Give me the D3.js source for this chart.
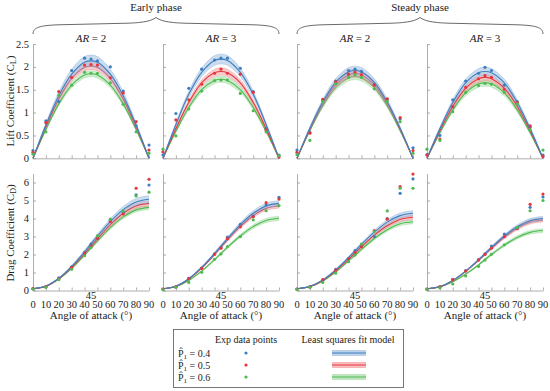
<!DOCTYPE html>
<html><head><meta charset="utf-8">
<script src="https://cdn.jsdelivr.net/npm/d3@7"></script>
<style>body{margin:0;background:#fff}svg{display:block}text{font-family:"Liberation Serif","DejaVu Serif",serif;fill:#222}</style>
</head><body><svg id="c" width="550" height="391"></svg>
<script>
// ---------- data ----------
const angles = [0,10,20,30,40,45,50,60,70,80,90];
const seriesNames = ["0.4","0.5","0.6"];
const phases = ["Early phase","Steady phase"];
const arLabels = ["2","3","2","3"];
const liftTicks = [0,0.5,1,1.5,2,2.5];
const dragTicks = [0,1,2,3,4,5,6];
const xTicks = [0,10,20,30,40,50,60,70,80,90];

// Lift coefficient, experimental points [P=0.4, P=0.5, P=0.6]
const clExpEarly2 = [
  [0.17,0.82,1.24,1.92,2.19,2.17,2.13,2.00,1.47,0.71,0.29],
  [0.13,0.78,1.46,1.77,2.04,2.05,2.04,1.76,1.43,0.80,0.18],
  [0.09,0.58,1.38,1.60,1.88,1.86,1.86,1.65,1.18,0.58,0.11]];
const clExpEarly3 = [
  [0.07,0.98,1.53,1.95,2.15,2.19,2.19,1.97,1.46,0.65,0.07],
  [0.14,0.84,1.28,1.62,1.86,1.95,1.86,1.84,1.44,0.62,0.03],
  [0.20,0.49,1.08,1.47,1.70,1.71,1.71,1.42,1.04,0.58,0.06]];
const clExpSteady2 = [
  [0.18,0.57,1.28,1.69,1.92,1.95,1.90,1.62,1.29,0.86,0.23],
  [0.13,0.55,1.29,1.67,1.84,1.88,1.83,1.60,1.30,0.89,0.17],
  [0.08,0.39,1.24,1.63,1.77,1.83,1.77,1.52,1.24,0.80,0.11]];
const clExpSteady3 = [
  [0.08,0.50,1.28,1.69,1.86,1.99,1.92,1.60,1.24,0.68,0.07],
  [0.07,0.42,1.13,1.55,1.74,1.81,1.77,1.51,1.22,0.71,0.04],
  [0.20,0.39,1.02,1.44,1.59,1.64,1.62,1.44,1.19,0.62,0.18]];
// Lift coefficient, least squares fit
const clFitEarly2 = [
  [0,0.73,1.37,1.84,2.10,2.13,2.10,1.84,1.37,0.73,0],
  [0,0.69,1.30,1.75,1.99,2.02,1.99,1.75,1.30,0.69,0],
  [0,0.63,1.19,1.60,1.82,1.85,1.82,1.60,1.19,0.63,0]];
const clFitEarly3 = [
  [0,0.74,1.40,1.88,2.14,2.17,2.14,1.88,1.40,0.74,0],
  [0,0.65,1.22,1.65,1.87,1.90,1.87,1.65,1.22,0.65,0],
  [0,0.59,1.11,1.50,1.70,1.73,1.70,1.50,1.11,0.59,0]];
const clFitSteady2 = [
  [0,0.66,1.23,1.66,1.89,1.92,1.89,1.66,1.23,0.66,0],
  [0,0.64,1.20,1.61,1.83,1.86,1.83,1.61,1.20,0.64,0],
  [0,0.61,1.15,1.55,1.76,1.79,1.76,1.55,1.15,0.61,0]];
const clFitSteady3 = [
  [0,0.65,1.22,1.65,1.87,1.90,1.87,1.65,1.22,0.65,0],
  [0,0.61,1.14,1.53,1.74,1.77,1.74,1.53,1.14,0.61,0],
  [0,0.56,1.06,1.43,1.63,1.65,1.63,1.43,1.06,0.56,0]];
// relative half-width of the fit confidence band
const clBand = [[0.06,0.04,0.035],[0.05,0.042,0.04],[0.05,0.045,0.04],[0.05,0.045,0.045]];

// Drag coefficient, experimental points
const cdExpEarly2 = [
  [0.10,0.22,0.70,1.32,2.12,2.58,2.90,3.88,4.34,5.31,5.86],
  [0.10,0.20,0.65,1.28,2.06,2.47,2.90,3.82,4.25,5.68,6.18],
  [0.08,0.18,0.60,1.18,1.93,2.39,3.03,3.96,4.42,5.25,5.46]];
const cdExpEarly3 = [
  [0.08,0.20,0.68,1.25,2.03,2.40,2.96,3.68,4.14,4.75,5.18],
  [0.08,0.20,0.66,1.23,2.01,2.35,2.88,3.54,4.10,4.88,5.08],
  [0.04,0.18,0.45,1.01,1.73,2.03,2.44,2.99,3.92,4.43,4.71]];
const cdExpSteady2 = [
  [0.08,0.20,0.58,1.18,1.79,2.21,2.46,3.00,4.00,5.40,6.20],
  [0.08,0.20,0.60,1.12,1.76,2.10,2.44,3.33,3.96,5.77,6.47],
  [0.05,0.18,0.45,0.96,1.60,1.97,2.58,3.28,4.42,5.68,5.68]];
const cdExpSteady3 = [
  [0.08,0.20,0.62,1.10,1.71,2.03,2.47,3.14,3.45,4.62,5.20],
  [0.08,0.20,0.60,1.08,1.69,2.01,2.35,2.99,3.43,4.79,5.36],
  [0.05,0.15,0.36,0.81,1.34,1.69,2.01,2.54,3.49,4.43,5.00]];
// Drag coefficient, least squares fit
const cdFitEarly2 = [
  [0.10,0.25,0.68,1.34,2.15,2.59,3.02,3.83,4.49,4.92,5.07],
  [0.10,0.24,0.65,1.29,2.06,2.47,2.88,3.66,4.29,4.70,4.84],
  [0.10,0.23,0.63,1.23,1.97,2.36,2.75,3.49,4.09,4.48,4.62]];
const cdFitEarly3 = [
  [0.10,0.24,0.65,1.29,2.06,2.47,2.88,3.66,4.29,4.70,4.84],
  [0.10,0.24,0.64,1.25,2.00,2.41,2.81,3.56,4.17,4.57,4.71],
  [0.10,0.22,0.56,1.08,1.71,2.06,2.40,3.03,3.55,3.89,4.01]];
const cdFitSteady2 = [
  [0.10,0.23,0.59,1.15,1.83,2.20,2.56,3.24,3.80,4.16,4.29],
  [0.10,0.22,0.56,1.09,1.74,2.09,2.43,3.08,3.60,3.95,4.07],
  [0.10,0.21,0.53,1.03,1.65,1.96,2.28,2.89,3.38,3.71,3.82]];
const cdFitSteady3 = [
  [0.10,0.22,0.56,1.08,1.71,2.05,2.39,3.03,3.54,3.88,4.00],
  [0.10,0.21,0.55,1.06,1.68,2.01,2.34,2.97,3.47,3.81,3.92],
  [0.10,0.20,0.48,0.91,1.42,1.72,2.00,2.52,2.95,3.23,3.33]];
const cdBand = [[0.04,0.03,0.026],[0.032,0.028,0.03],[0.035,0.03,0.03],[0.03,0.03,0.032]];

// ---------- layout / style ----------
const colors = ["#3f7fc1","#e8353b","#4fba50"];
const bandColors = ["#9fbfe0","#f2a3a6","#a6dca6"];
const colX = [33,163,297,427], colW = 116;
const liftY = [158.3,44], dragY = [290.5,173.5];
const svg = d3.select("#c");

const clExp = [clExpEarly2,clExpEarly3,clExpSteady2,clExpSteady3];
const clFit = [clFitEarly2,clFitEarly3,clFitSteady2,clFitSteady3];
const cdExp = [cdExpEarly2,cdExpEarly3,cdExpSteady2,cdExpSteady3];
const cdFit = [cdFitEarly2,cdFitEarly3,cdFitSteady2,cdFitSteady3];

const yLiftScale = d3.scaleLinear([0,2.5], liftY);
const yDragScale = d3.scaleLinear([0,6.5], dragY);

function panel(ci, y, ticks, exp, fit, band, showX) {
  const x = d3.scaleLinear([0,90],[colX[ci], colX[ci]+colW]);
  const y0 = y(0);
  const g = svg.append("g");
  const ya = d3.axisLeft(y).tickValues(ticks).tickSizeInner(-3).tickSizeOuter(0).tickFormat(() => "");
  const yg = g.append("g").attr("transform",`translate(${colX[ci]},0)`).call(ya);
  const xa = d3.axisBottom(x).tickValues(xTicks).tickSizeInner(-3).tickSizeOuter(0).tickFormat(() => "");
  const xg = g.append("g").attr("transform",`translate(0,${y0})`).call(xa);
  [yg,xg].forEach(a => {
    a.select(".domain").attr("stroke","#9a9a9a").attr("stroke-width",0.8);
    a.selectAll(".tick line").attr("stroke","#9a9a9a").attr("stroke-width",0.8);
  });
  if (showX) {
    g.append("g").selectAll("text").data(xTicks).join("text")
      .attr("x", d => x(d)).attr("y", y0+17).attr("text-anchor","middle")
      .style("font-size","10.5px").text(d => String(d));
    g.append("text").attr("x",x(45)).attr("y",y0+8.5).attr("text-anchor","middle")
      .style("font-size","10.5px").text("45");
    g.append("text").attr("x",x(45)).attr("y",y0+28).attr("text-anchor","middle")
      .style("font-size","11px").text("Angle of attack (°)");
  }
  const line = d3.line().x((d,i)=>x(angles[i])).y(d=>y(d)).curve(d3.curveCatmullRom);
  const area = d3.area().x(d=>x(d.a)).y0(d=>y(d.lo)).y1(d=>y(d.hi)).curve(d3.curveCatmullRom);
  for (let s=2; s>=0; s--) {
    const f = band[ci][s];
    const bd = fit[s].map((v,i)=>({a:angles[i], lo:v*(1-f), hi:v*(1+f)}));
    g.append("path").datum(bd).attr("d",area).attr("fill",bandColors[s]).attr("fill-opacity",0.55);
    g.append("path").datum(bd.map(d=>d.hi)).attr("d",line).attr("fill","none").attr("stroke",colors[s]).attr("stroke-opacity",0.35).attr("stroke-width",0.6);
    g.append("path").datum(bd.map(d=>d.lo)).attr("d",line).attr("fill","none").attr("stroke",colors[s]).attr("stroke-opacity",0.35).attr("stroke-width",0.6);
    g.append("path").datum(fit[s]).attr("d",line).attr("fill","none").attr("stroke",colors[s]).attr("stroke-width",1.1);
  }
  for (let s=0; s<3; s++) {
    g.selectAll(null).data(exp[s]).join("circle")
      .attr("cx",(d,i)=>x(angles[i])).attr("cy",d=>y(d)).attr("r",1.6).attr("fill",colors[s]);
  }
}
for (let c=0;c<4;c++) {
  panel(c, yLiftScale, liftTicks, clExp[c], clFit[c], clBand, false);
  panel(c, yDragScale, dragTicks, cdExp[c], cdFit[c], cdBand, true);
  const t = svg.append("text").attr("x",colX[c]+colW/2).attr("y",42).attr("text-anchor","middle").style("font-size","11px");
  t.append("tspan").style("font-style","italic").text("AR");
  t.append("tspan").text(" = "+arLabels[c]);
}
// braces + phase titles
[[colX[0],colX[1]+colW],[colX[2],colX[3]+colW]].forEach((r,i)=>{
  const [a,b] = r, m=(a+b)/2;
  const p = `M${a},34 C${a},27 ${a+8},25.5 ${a+25},24.8 L${m-28},23.2 C${m-12},22.6 ${m-5},21 ${m},17.5 C${m+5},21 ${m+12},22.6 ${m+28},23.2 L${b-25},24.8 C${b-8},25.5 ${b},27 ${b},34`;
  svg.append("path").attr("d",p).attr("fill","none").attr("stroke","#444").attr("stroke-width",0.8);
  svg.append("text").attr("x",m).attr("y",11).attr("text-anchor","middle").style("font-size","11px").text(phases[i]);
});
// y labels
function ylab(txt, sub, cy){
  const t = svg.append("text").attr("transform",`translate(14,${cy}) rotate(-90)`).attr("text-anchor","middle").style("font-size","11px");
  t.append("tspan").text(txt+" (C");
  t.append("tspan").attr("font-size","8px").attr("dy",2).text(sub);
  t.append("tspan").attr("dy",-2).text(")");
}
ylab("Lift Coefficient","L",101);
ylab("Drag Coefficient","D",233);
// y tick labels (first column only), drawn last
liftTicks.forEach(v => svg.append("text").attr("x",29).attr("y",yLiftScale(v)+3.5)
  .attr("text-anchor","end").attr("font-size",10.5).text(String(v)));
dragTicks.forEach(v => svg.append("text").attr("x",29).attr("y",yDragScale(v)+3.5)
  .attr("text-anchor","end").attr("font-size",10.5).text(String(v)));
// legend
const lg = svg.append("g");
lg.append("rect").attr("x",173.5).attr("y",329.5).attr("width",230).attr("height",58).attr("fill","#fff").attr("stroke","#555").attr("stroke-width",0.8);
lg.append("text").attr("x",246).attr("y",343).attr("text-anchor","middle").style("font-size","10px").text("Exp data points");
lg.append("text").attr("x",348).attr("y",343).attr("text-anchor","middle").style("font-size","10px").text("Least squares fit model");
seriesNames.forEach((n,i)=>{
  const yy = 353+i*12;
  const t = lg.append("text").attr("x",178).attr("y",yy+3.5).style("font-size","10px");
  t.append("tspan").text("P\u0302");
  t.append("tspan").attr("font-size","7px").attr("dy",2).text("1");
  t.append("tspan").attr("dy",-2).text(" = "+n);
  lg.append("circle").attr("cx",246).attr("cy",yy).attr("r",1.6).attr("fill",colors[i]);
  lg.append("rect").attr("x",332).attr("y",yy-2.5).attr("width",34).attr("height",5).attr("fill",bandColors[i]).attr("fill-opacity",0.7);
  lg.append("line").attr("x1",332).attr("x2",366).attr("y1",yy).attr("y2",yy).attr("stroke",colors[i]).attr("stroke-width",1);
  [-2.5,2.5].forEach(o=>lg.append("line").attr("x1",332).attr("x2",366).attr("y1",yy+o).attr("y2",yy+o).attr("stroke",colors[i]).attr("stroke-opacity",0.4).attr("stroke-width",0.6));
});
</script></body></html>
